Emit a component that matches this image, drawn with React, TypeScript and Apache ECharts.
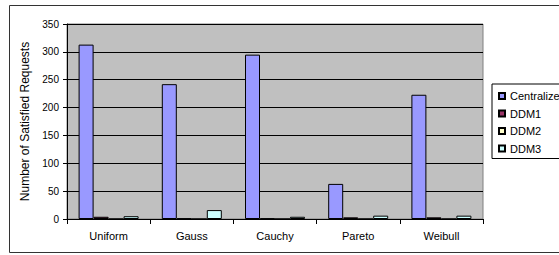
import React, { useEffect, useRef } from "react";
import * as echarts from "echarts";

const categories = ["Uniform", "Gauss", "Cauchy", "Pareto", "Weibull"];
const seriesNames = ["Centralized", "DDM1", "DDM2", "DDM3"];
const centralized = [313, 242, 295, 63, 223];
const ddm1 = [4, 1, 1, 3, 3];
const ddm2 = [0, 0, 0, 0, 0];
const ddm3 = [5, 16, 4, 6, 6];
const yTicks = [0, 50, 100, 150, 200, 250, 300, 350];
const colors = ["#9999FF", "#993366", "#FFFFCC", "#CCFFFF"];

export default function App() {
  const ref = useRef<HTMLDivElement>(null);
  useEffect(() => {
    if (!ref.current) return;
    const chart = echarts.init(ref.current, undefined, { renderer: "svg" });
    const values = [centralized, ddm1, ddm2, ddm3];
    const font = "'Liberation Sans', Arial, sans-serif";
    chart.setOption({
      animation: false,
      textStyle: { fontFamily: font, color: "#000" },
      graphic: [
        {
          type: "rect",
          shape: { x: 9.5, y: 5.5, width: 640, height: 247 },
          style: { fill: "none", stroke: "#333", lineWidth: 1 },
          silent: true,
          z: -10,
        },
      ],
      grid: {
        left: 67,
        top: 24,
        width: 416,
        height: 195,
        show: true,
        backgroundColor: "#C0C0C0",
        borderColor: "#808080",
        borderWidth: 1,
      },
      legend: {
        orient: "vertical",
        left: 492,
        top: 84,
        padding: [6, 10, 4, 6],
        itemGap: 5.5,
        itemWidth: 6,
        itemHeight: 6,
        borderColor: "#000",
        borderWidth: 1,
        backgroundColor: "#fff",
        icon: "rect",
        data: seriesNames,
        textStyle: { fontSize: 11, lineHeight: 12, color: "#000", fontFamily: font },
      },
      xAxis: {
        type: "category",
        data: categories,
        axisLine: { show: true, lineStyle: { color: "#000", width: 1 } },
        axisTick: { show: true, length: 5, alignWithLabel: false, lineStyle: { color: "#000" } },
        axisLabel: { fontSize: 11, color: "#000", margin: 11, fontFamily: font },
        splitLine: { show: false },
      },
      yAxis: {
        type: "value",
        min: 0,
        max: 350,
        interval: 50,
        name: "Number of Satisfied Requests",
        nameLocation: "middle",
        nameGap: 36,
        nameTextStyle: { fontSize: 12, color: "#000", fontFamily: font },
        axisLine: { show: true, lineStyle: { color: "#000", width: 1 } },
        axisTick: { show: true, length: 4, lineStyle: { color: "#000" } },
        axisLabel: {
          fontSize: 10,
          color: "#000",
          margin: 8,
          fontFamily: font,
          formatter: (v: number) => (yTicks.includes(v) ? String(v) : ""),
        },
        splitLine: { show: true, lineStyle: { color: "#000", width: 1 } },
      },
      series: seriesNames.map((name, i) => ({
        name,
        type: "bar",
        data: values[i],
        barWidth: 15,
        barGap: "0%",
        itemStyle: { color: colors[i], borderColor: "#000", borderWidth: 1 },
      })),
    });
    return () => chart.dispose();
  }, []);
  return (
    <div
      style={{
        position: "fixed",
        left: 0,
        top: 0,
        width: 559,
        height: 255,
        overflow: "hidden",
        background: "#fff",
      }}
    >
      <div ref={ref} style={{ width: 660, height: 255 }} />
    </div>
  );
}
